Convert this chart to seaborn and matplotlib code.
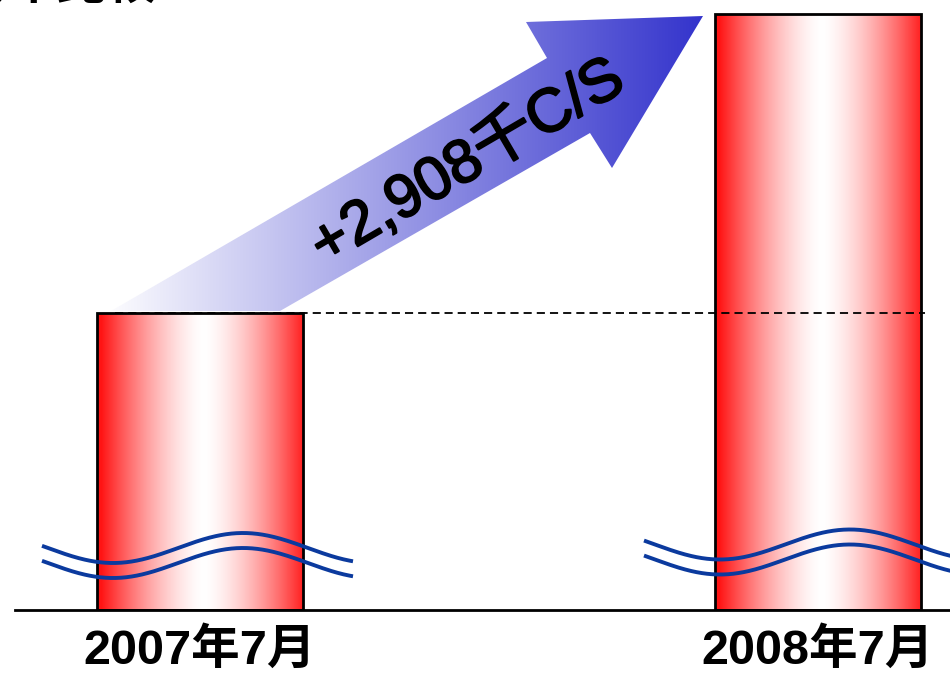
import numpy as np
import pandas as pd
import matplotlib.pyplot as plt
import matplotlib.patheffects as pe
from matplotlib.patches import Polygon
import seaborn as sns

# bar heights as drawn (the axis is broken near the bottom), thousand C/S
months = ["2007年7月", "2008年7月"]
heights = [2889, 5797]
increase_label = "+2,908千C/S"
title_text = "前年比較"

sns.set_style("white")
plt.rcParams['font.family'] = ['Noto Sans CJK JP', 'DejaVu Sans']
plt.rcParams['text.color'] = 'black'
latin_cjk = ['Liberation Sans', 'Noto Sans CJK JP']

W, H = 950, 675
fig = plt.figure(figsize=(W / 100, H / 100), dpi=100)
ax = fig.add_axes([15 / W, 65 / H, 935 / W, 610 / H])


def px(x, y):
    # picture pixel -> axes fraction
    return (x - 15) / 935, (610 - y) / 610


df = pd.DataFrame({"month": months, "value": heights})
sns.barplot(data=df, x="month", y="value", color="red", width=1 / 3,
            edgecolor="black", linewidth=2, ax=ax)

# red - white - red gradient inside each bar
t = np.linspace(0, 1, 256)
w = np.clip(np.abs(t - 0.52) / 0.5, 0, 1) ** 1.5
red = np.array([1.0, 0.08, 0.08])
grad = (1 - w)[:, None] * np.ones(3) + w[:, None] * red
for bar in ax.patches:
    bb = bar.get_bbox()
    im = ax.imshow(grad[None, :, :], extent=[bb.x0, bb.x1, bb.y0, bb.y1],
                   aspect="auto", interpolation="bilinear", zorder=1)
    im.set_clip_path(bar)
    bar.set_facecolor("none")
    bar.set_zorder(3)

# dashed reference line at the 2007 level
ax.axhline(heights[0], xmin=px(115, 0)[0], xmax=px(925, 0)[0], color="black",
           lw=1.3, dashes=(4.5, 2.8), zorder=4)

# axis-break waves
unit = heights[0] / 297  # value per pixel
period = 260 / 618
amp = 15 * unit
gap = 15 * unit
for xc, x_from, x_to, trough, mid in [(0, -158, 153, -87, 62), (1, -174, 140, -98, 65.5)]:
    xs = np.linspace(xc + x_from / 618, xc + x_to / 618, 300)
    ys = mid * unit - amp * np.cos(2 * np.pi * (xs - xc - trough / 618) / period)
    for off in (0, gap):
        ax.plot(xs, ys - off, color="#0B3A9E", lw=2.8, solid_capstyle="butt", zorder=5)

# gradient arrow
arrow_pts = [px(111, 311), px(547, 58), px(526, 22), px(703, 16),
             px(612, 168), px(590, 133), px(280, 311)]
arrow = Polygon(arrow_pts, closed=True, transform=ax.transAxes,
                facecolor="none", edgecolor="none", zorder=2)
ax.add_patch(arrow)
blue = np.array([0.2, 0.2, 0.8])
ta = np.linspace(0, 1, 256)
agrad = (1 - ta)[:, None] * np.ones(3) + ta[:, None] * blue
x0, _ = px(100, 0)
x1, _ = px(705, 0)
_, y0 = px(0, 312)
_, y1 = px(0, 14)
aim = ax.imshow(agrad[None, :, :], extent=[x0, x1, y0, y1], transform=ax.transAxes,
                aspect="auto", interpolation="bilinear", zorder=2)
aim.set_clip_path(arrow)

tx, ty = px(468, 163)
ax.text(tx, ty, increase_label, transform=ax.transAxes, rotation=30.3,
        rotation_mode="anchor", ha="center", va="center", fontsize=44,
        family=latin_cjk, color="black", zorder=6,
        path_effects=[pe.withStroke(linewidth=1.5, foreground="black")])

# clipped heading at the very top
fig.text(-43 / W, 1 - 10 / H, title_text, fontsize=36, fontweight="bold",
         va="bottom", ha="left", color="black")

ax.set_xlim(-185 / 618, 1 + 132 / 618)
ax.set_ylim(0, 610 * unit)
ax.set_xlabel("")
ax.set_ylabel("")
ax.set_yticks([])
ax.tick_params(axis="x", length=0, pad=13, labelsize=35, labelcolor="black")
for lab in ax.get_xticklabels():
    lab.set_fontweight("bold")
    lab.set_family(latin_cjk)
sns.despine(ax=ax, left=True)
ax.spines["bottom"].set_linewidth(2)
ax.spines["bottom"].set_color("black")

fig.savefig("out.png", dpi=100)
